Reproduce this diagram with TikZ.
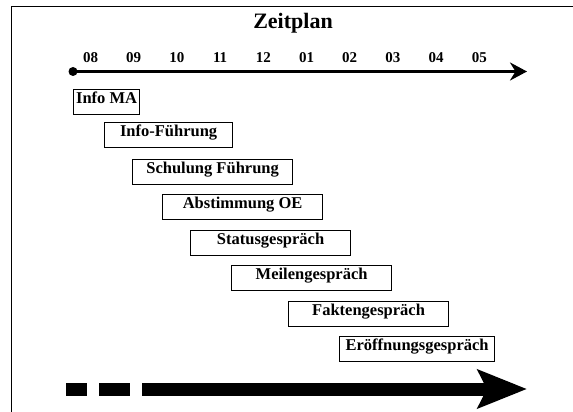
\documentclass[tikz,border=0pt]{standalone}
\usepackage{fontspec}
\setmainfont{Liberation Serif}
\usetikzlibrary{arrows.meta}
\tikzstyle{task}=[draw, line width=1.2pt, anchor=north west, inner xsep=0pt, inner ysep=0pt,
minimum height=25pt, text height=13.5pt, text depth=11.5pt, font=\fontsize{16.5}{18}\selectfont\bfseries]
\tikzstyle{monthlabel}=[anchor=base, font=\fontsize{15}{17}\selectfont\bfseries]

\begin{document}
\begin{tikzpicture}[x=1pt,y=-1pt]
  \useasboundingbox (0,0) rectangle (573,412);
  \draw[line width=1pt] (573,7) -- (11,7) -- (11,412);
  \node[anchor=base, font=\fontsize{22}{24}\selectfont\bfseries] (title) at (293,29) {Zeitplan};
  % time axis
  \foreach \m [count=\i from 0] in {08,09,10,11,12,01,02,03,04,05}
    \node[monthlabel] (m\i) at (90.5+43.2*\i,62.7) {\m};
  \node[circle, fill, inner sep=0pt, minimum size=9pt] (start) at (73,71.5) {};
  \coordinate (axisend) at (527,71.5);
  \draw[line width=3pt, -{Stealth[length=17pt,width=18pt]}] (start.center) -- (axisend);
  % steps
  \node[task, minimum width=66pt] (infoma) at (73,89) {Info MA};
  \node[task, minimum width=128pt] (infofuehrung) at (104,122) {Info-Führung};
  \node[task, minimum width=160pt] (schulung) at (132,159) {Schulung Führung};
  \node[task, minimum width=160pt] (abstimmung) at (162,194) {Abstimmung OE};
  \node[task, minimum width=160pt] (status) at (190,230) {Statusgespräch};
  \node[task, minimum width=160pt] (meilen) at (231,265) {Meilengespräch};
  \node[task, minimum width=160pt] (fakten) at (288,301) {Faktengespräch};
  \node[task, minimum width=155pt] (eroeffnung) at (339,336) {Eröffnungsgespräch};
  % big arrow
  \fill (66,382.5) rectangle (87,395.5);
  \fill (99,382.5) rectangle (130,395.5);
  \coordinate (barstart) at (142,389);
  \coordinate (barend) at (527,389);
  \draw[line width=13pt, -{Stealth[length=49pt,width=38pt,inset=9pt]}] (barstart) -- (barend);
\end{tikzpicture}
\end{document}
